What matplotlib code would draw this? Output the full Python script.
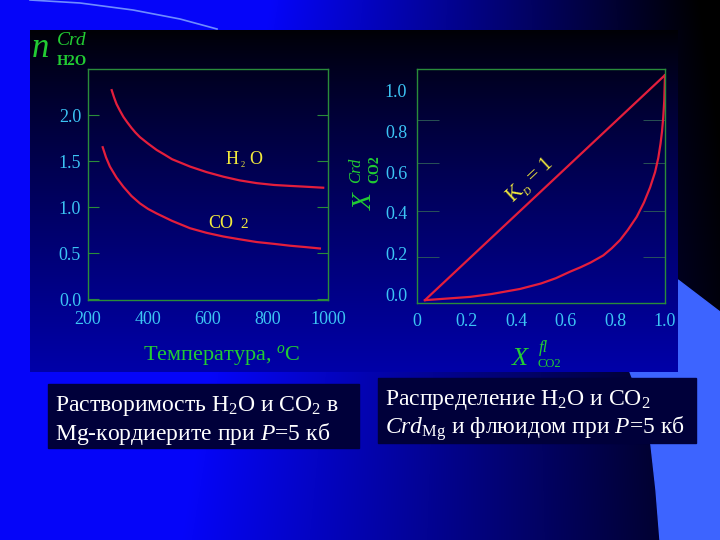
import matplotlib as mpl
mpl.use('Agg')
import matplotlib.pyplot as plt
from matplotlib.patches import Rectangle, Polygon
import numpy as np

plt.rcParams['font.family'] = 'serif'
plt.rcParams['font.serif'] = ['Liberation Serif', 'DejaVu Serif']
plt.rcParams['mathtext.fontset'] = 'custom'
plt.rcParams['mathtext.rm'] = 'Liberation Serif'
plt.rcParams['mathtext.it'] = 'Liberation Serif:italic'
plt.rcParams['mathtext.bf'] = 'Liberation Serif:bold'

# left chart: solubility vs temperature
t_h2o = [279, 287, 295, 306, 318, 331, 345, 358, 373, 400, 429, 455, 480, 510,
         540, 595, 651, 705, 762, 820, 873, 930, 984]
n_h2o = [2.27, 2.19, 2.12, 2.05, 1.98, 1.92, 1.86, 1.81, 1.76, 1.69, 1.62, 1.57,
         1.52, 1.48, 1.44, 1.38, 1.33, 1.29, 1.26, 1.24, 1.23, 1.22, 1.21]
t_co2 = [249, 260, 273, 295, 318, 345, 373, 400, 429, 480, 540, 595, 651, 705,
         762, 820, 873, 925, 973]
n_co2 = [1.65, 1.54, 1.44, 1.32, 1.22, 1.12, 1.04, 0.98, 0.93, 0.85, 0.77, 0.72,
         0.68, 0.65, 0.62, 0.60, 0.58, 0.565, 0.55]
t_ticks = [200, 400, 600, 800, 1000]
n_ticks = [0.0, 0.5, 1.0, 1.5, 2.0]

# right chart: distribution crd / fluid
x_k1 = [0.032, 1.0]
y_k1 = [-0.03, 1.077]
x_curve = [0.032, 0.1, 0.214, 0.3, 0.415, 0.5, 0.56, 0.617, 0.66, 0.7, 0.751,
           0.785, 0.819, 0.85, 0.886, 0.915, 0.94, 0.96, 0.973, 0.982, 0.988,
           0.993, 0.997, 1.0]
y_curve = [-0.03, -0.024, -0.014, 0.0, 0.025, 0.052, 0.078, 0.11, 0.132, 0.155,
           0.19, 0.225, 0.266, 0.315, 0.38, 0.45, 0.525, 0.6, 0.67, 0.74, 0.8,
           0.87, 0.95, 1.077]
x_ticks = [0, 0.2, 0.4, 0.6, 0.8, 1.0]
x_ticklabels = ['0', '0.2', '0.4', '0.6', '0.8', '1.0']
y_ticks = [0.0, 0.2, 0.4, 0.6, 0.8, 1.0]
y_marks = [0.182, 0.408, 0.644, 0.856]

red = '#e41e3c'
green = '#2a8c3a'
lab_green = '#22cc33'
cyan = '#3cc4f4'
yellow = '#f2ea3c'

W, H = 720, 540
fig = plt.figure(figsize=(7.2, 5.4), dpi=100, facecolor='black')

# slide background
bg = fig.add_axes([0, 0, 1, 1])
bg.set_xlim(0, W)
bg.set_ylim(H, 0)
bg.axis('off')
xx, yy = np.meshgrid(np.arange(W) + 0.5, np.arange(H) + 0.5)
x0 = 270 - 90 * yy / H
k = 430 + 170 * yy / H
b = np.clip(1 - np.clip(xx - x0, 0, None) / k, 0, 1)
img = np.dstack([0.02 * b, 0.02 * b, 0.98 * b])
bg.imshow(img, extent=(0, W, H, 0), aspect='auto', zorder=0)

shape = [(678, 280), (720, 312), (720, 540), (660, 540), (656, 490), (651, 445),
         (643, 405), (630, 372), (640, 330)]
bg.add_patch(Polygon(shape, closed=True, color='#3d64ff', zorder=1))
bg.plot([30, 80, 133, 180, 217], [0, 3, 10, 19, 29], color='#6e8cff', lw=1.2, zorder=1)

# dark panel behind charts
tt = np.linspace(0, 1, 256)[:, None]
pv = 0.02 + 0.64 * tt ** 0.85
panel = np.dstack([0 * pv, 0 * pv, pv])
bg.imshow(panel, extent=(30, 678, 372, 30), aspect='auto', zorder=2)

# caption boxes
bg.add_patch(Rectangle((48, 384), 311, 64, color='#00003a', zorder=2))
bg.add_patch(Rectangle((378, 378), 318, 65, color='#00003a', zorder=2))

# left axes
ax1 = fig.add_axes([88 / W, 1 - 300 / H, 240 / W, 231 / H])
ax1.patch.set_alpha(0)
ax1.plot(t_h2o, n_h2o, color=red, lw=1.6)
ax1.plot(t_co2, n_co2, color=red, lw=1.6)
ax1.set_xlim(200, 1000)
ax1.set_ylim(-0.01, 2.5)
ax1.set_xticks(t_ticks)
ax1.set_xticks([400, 600, 800], minor=True)
ax1.set_yticks(n_ticks)
ax1.tick_params(axis='x', which='major', length=0, labelsize=13, labelcolor=cyan, pad=8)
ax1.tick_params(axis='x', which='minor', length=7, direction='in', color=green,
                top=True, bottom=True)
ax1.tick_params(axis='y', which='major', length=8, direction='in', color=green,
                labelsize=13, labelcolor=cyan, pad=5, left=True, right=True)

# right axes
ax2 = fig.add_axes([417 / W, 1 - 303 / H, 248 / W, 234 / H])
ax2.patch.set_alpha(0)
ax2.plot(x_k1, y_k1, color=red, lw=1.6)
ax2.plot(x_curve, y_curve, color=red, lw=1.6)
ax2.set_xlim(0, 1.0)
ax2.set_ylim(-0.044, 1.107)
ax2.set_xticks(x_ticks)
ax2.set_xticklabels(x_ticklabels)
ax2.set_xticks([0.2, 0.4, 0.6, 0.8], minor=True)
ax2.set_yticks(y_ticks)
ax2.set_yticks(y_marks, minor=True)
ax2.tick_params(axis='x', which='major', length=0, labelsize=13, labelcolor=cyan, pad=7)
ax2.tick_params(axis='x', which='minor', length=9, direction='in', color=green,
                top=True, bottom=True)
ax2.tick_params(axis='y', which='major', length=0, labelsize=13, labelcolor=cyan, pad=7)
ax2.tick_params(axis='y', which='minor', length=16, direction='in', color='#2f5f58',
                left=True, right=True)

for ax in (ax1, ax2):
    for sp in ax.spines.values():
        sp.set_color(green)
        sp.set_linewidth(1)

# labels of left chart
bg.text(32, 57, 'n', fontsize=25, style='italic', color=lab_green, zorder=5)
bg.text(57, 45, 'Crd', fontsize=14, style='italic', color=lab_green, zorder=5)
bg.text(57, 65, 'H2O', fontsize=10.5, weight='bold', color=lab_green, zorder=5)
bg.text(222, 360, 'Температура, $^{o}$C', fontsize=16, color=lab_green,
        ha='center', zorder=5)
bg.text(226, 164, 'H', fontsize=13, color=yellow, zorder=5)
bg.text(241, 167, '2', fontsize=6, color=yellow, zorder=5)
bg.text(249, 164, 'O', fontsize=13, color=yellow, zorder=5)
bg.text(208, 228, 'CO', fontsize=13, color=yellow, zorder=5)
bg.text(240, 228, '2', fontsize=11, color=yellow, zorder=5)

# labels of right chart
bg.text(372, 210, 'X', fontsize=20, style='italic', color=lab_green, rotation=90,
        rotation_mode='anchor', ha='left', va='baseline', zorder=5)
bg.text(360, 183, 'Crd', fontsize=12, style='italic', color=lab_green, rotation=90,
        rotation_mode='anchor', ha='left', va='baseline', zorder=5)
bg.text(378, 183, 'CO2', fontsize=10, weight='bold', color=lab_green, rotation=90,
        rotation_mode='anchor', ha='left', va='baseline', zorder=5)
bg.text(512, 365, 'X', fontsize=19, style='italic', color=lab_green, zorder=5)
bg.text(539, 352, 'fl', fontsize=12, style='italic', color=lab_green, zorder=5)
bg.text(537, 367, 'CO2', fontsize=9, color=lab_green, zorder=5)
bg.text(531, 181, 'K$_{_D}$ = 1', fontsize=15, color=yellow, rotation=43,
        rotation_mode='anchor', ha='center', va='center', zorder=5)

# captions
bg.text(55, 411, 'Растворимость H$_2$O и CO$_2$ в', fontsize=17, color='white', zorder=5)
bg.text(55, 440, 'Mg-кордиерите при $P$=5 кб', fontsize=17, color='white', zorder=5)
bg.text(385, 405, 'Распределение H$_2$O и CO$_2$', fontsize=17, color='white', zorder=5)
bg.text(385, 434, r'$Crd_{\mathrm{Mg}}$ и флюидом при $P$=5 кб', fontsize=17,
        color='white', zorder=5)

fig.savefig('out.png', dpi=100, facecolor=fig.get_facecolor())
